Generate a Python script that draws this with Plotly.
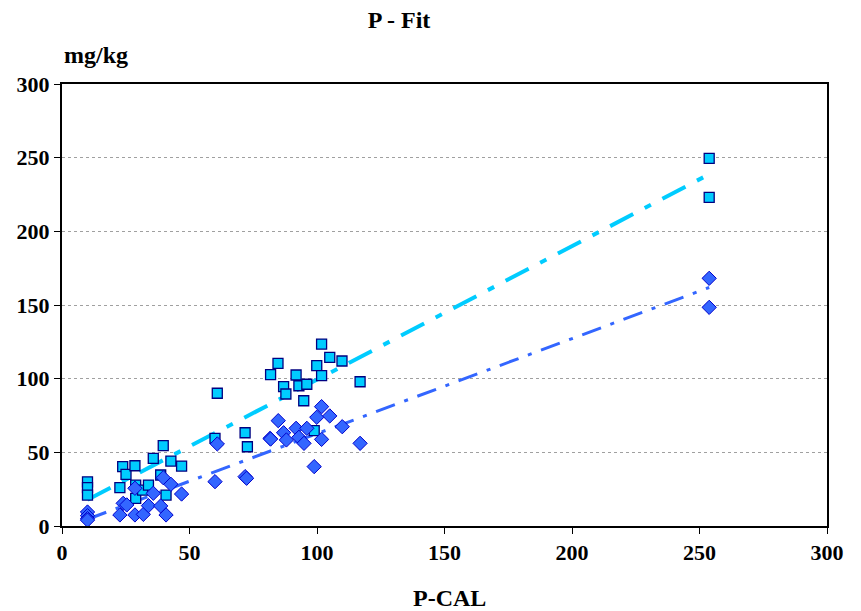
import numpy as np
import plotly.graph_objects as go

# Square series (cyan)
sq_x = [10, 10, 10, 23.8, 25.1, 28.6, 22.7, 28.9, 28.9, 31.6, 33.9, 35.8, 39.7, 42.7, 46.9, 38.7, 40.8,
        60.9, 71.8, 72.7, 60.0,
        101.8, 84.7, 81.8, 91.8, 99.9, 105.0, 109.8, 101.8, 86.9, 87.8, 92.9, 96.0, 94.8, 116.9, 98.9,
        253.8, 253.8]
sq_y = [30, 26, 21, 40.3, 35.1, 40.9, 26.0, 27.8, 18.8, 24.4, 27.8, 45.9, 54.5, 44.1, 40.7, 34.6, 21.0,
        90.1, 63.3, 53.8, 59.5,
        123.5, 110.4, 102.7, 102.5, 108.8, 114.5, 112.0, 102.0, 94.6, 89.6, 95.2, 96.2, 85.0, 97.9, 64.7,
        249.5, 223.0]

# Diamond series (blue)
dm_x = [10, 10, 10, 10, 22.7, 24.0, 25.4, 28.6, 28.6, 31.9, 33.9, 35.8, 38.7, 39.7, 40.8, 42.7, 46.9,
        60.9, 60.0, 71.8, 72.4, 81.6,
        101.8, 84.8, 99.9, 105.0, 109.9, 81.8, 86.9, 88.0, 91.8, 96.0, 92.9, 94.9, 101.8, 116.9, 98.9,
        253.8, 253.8]
dm_y = [9.5, 7.0, 5.0, 4.0, 7.5, 15.4, 14.3, 25.6, 7.5, 7.9, 13.8, 22.2, 13.6, 32.8, 7.5, 28.3, 21.7,
        55.7, 30.1, 33.5, 32.4, 59.5,
        81.0, 71.5, 73.8, 74.7, 67.4, 59.0, 63.3, 58.4, 66.3, 66.3, 60.2, 56.1, 58.8, 56.1, 40.3,
        168.1, 148.4]

x_ticks = [0, 50, 100, 150, 200, 250, 300]
y_ticks = [0, 50, 100, 150, 200, 250, 300]

CYAN = "#00CCFF"
BLUE = "#3366FF"
FONT = "Liberation Serif"


def trend(xs, ys):
    a, b = np.polyfit(xs, ys, 1)
    xx = np.array([min(xs), max(xs)])
    return xx, a * xx + b


fig = go.Figure()

tx, ty = trend(sq_x, sq_y)
fig.add_trace(go.Scatter(x=tx, y=ty, mode="lines",
                         line=dict(color=CYAN, width=4, dash="26px,13px,7px,13px"),
                         hoverinfo="skip"))
tx2, ty2 = trend(dm_x, dm_y)
fig.add_trace(go.Scatter(x=tx2, y=ty2, mode="lines",
                         line=dict(color=BLUE, width=3, dash="20px,10px,4px,10px"),
                         hoverinfo="skip"))

fig.add_trace(go.Scatter(x=sq_x, y=sq_y, mode="markers",
                         marker=dict(symbol="square", size=10, color=CYAN,
                                     line=dict(color="#000080", width=1.3))))
fig.add_trace(go.Scatter(x=dm_x, y=dm_y, mode="markers",
                         marker=dict(symbol="diamond", size=11, color=BLUE,
                                     line=dict(color="#0000CC", width=1))))

axis_common = dict(showline=True, linewidth=2, linecolor="black", mirror=True,
                   ticks="outside", ticklen=6, tickwidth=1, tickcolor="black",
                   zeroline=False,
                   tickfont=dict(family=FONT, size=22, color="black", weight="bold"))

fig.update_xaxes(range=[0, 300], tickvals=x_ticks, showgrid=False, **axis_common)
fig.update_yaxes(range=[0, 300], tickvals=y_ticks, showgrid=True,
                 gridcolor="#A0A0A0", griddash="dot", gridwidth=1, **axis_common)

fig.update_layout(
    width=861, height=611,
    margin=dict(l=62, r=34, t=84, b=85),
    paper_bgcolor="white", plot_bgcolor="white",
    showlegend=False,
    title=dict(text="<b>P - Fit</b>", x=399 / 861, xanchor="center", y=1 - 20 / 611, yanchor="middle",
               font=dict(family=FONT, size=24, color="black")),
    annotations=[
        dict(text="<b>mg/kg</b>", xref="paper", yref="paper", x=0, y=1 + 29 / 442,
             xanchor="left", yanchor="middle", showarrow=False,
             font=dict(family=FONT, size=24, color="black")),
        dict(text="<b>P-CAL</b>", xref="paper", yref="paper", x=(449 - 62) / 765, y=-72 / 442,
             xanchor="center", yanchor="middle", showarrow=False,
             font=dict(family=FONT, size=24, color="black")),
    ],
)

fig.write_html("out.html", config={"displayModeBar": False},
               post_script="document.body.style.margin='0';")
